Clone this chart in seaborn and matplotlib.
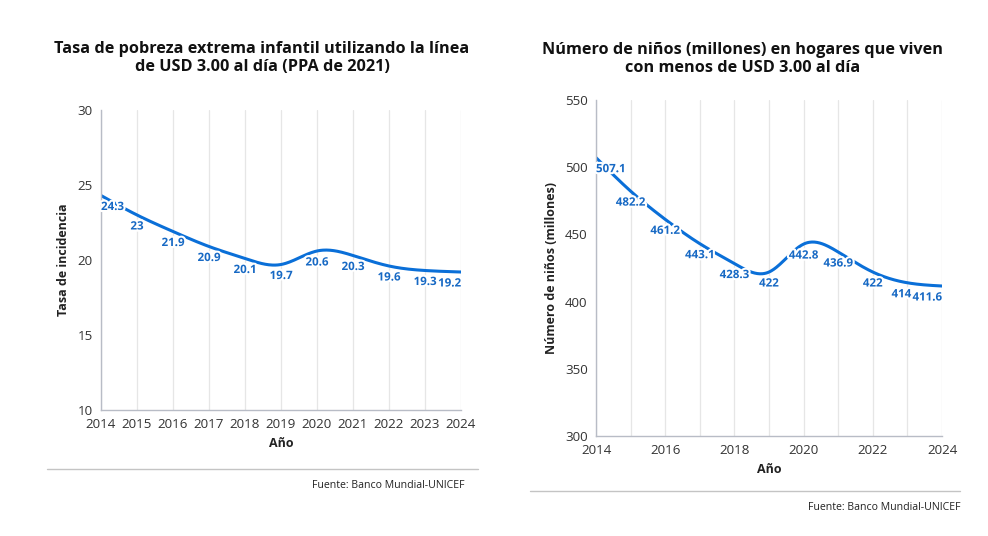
import numpy as np
import pandas as pd
import matplotlib
matplotlib.use("Agg")
import matplotlib.pyplot as plt
import matplotlib.patheffects as pe
from matplotlib.lines import Line2D
import seaborn as sns

# ---- data ----
years = [2014, 2015, 2016, 2017, 2018, 2019, 2020, 2021, 2022, 2023, 2024]
tasa = [24.3, 23, 21.9, 20.9, 20.1, 19.7, 20.6, 20.3, 19.6, 19.3, 19.2]
ninos = [507.1, 482.2, 461.2, 443.1, 428.3, 422, 442.8, 436.9, 422, 414, 411.6]
tasa_labels = ["24.3", "23", "21.9", "20.9", "20.1", "19.7", "20.6", "20.3", "19.6", "19.3", "19.2"]
ninos_labels = ["507.1", "482.2", "461.2", "443.1", "428.3", "422", "442.8", "436.9", "422", "414", "411.6"]

title_left = "Tasa de pobreza extrema infantil utilizando la línea\nde USD 3.00 al día (PPA de 2021)"
title_right = "Número de niños (millones) en hogares que viven\ncon menos de USD 3.00 al día"
ylabel_left = "Tasa de incidencia"
ylabel_right = "Número de niños (millones)"
xlabel = "Año"
source = "Fuente: Banco Mundial-UNICEF"

LINE = "#0a6fd8"
LABEL = "#1769c4"
TXT = "#333333"
GRID = "#e6e6e6"
SPINE = "#b8bcc6"

sns.set_theme(style="white")
plt.rcParams["font.family"] = ["Open Sans", "DejaVu Sans"]


def natural_spline(x, y, xs):
    x = np.asarray(x, float); y = np.asarray(y, float)
    n = len(x)
    h = np.diff(x)
    A = np.zeros((n, n)); b = np.zeros(n)
    A[0, 0] = 1; A[-1, -1] = 1
    for i in range(1, n - 1):
        A[i, i - 1] = h[i - 1]
        A[i, i] = 2 * (h[i - 1] + h[i])
        A[i, i + 1] = h[i]
        b[i] = 3 * ((y[i + 1] - y[i]) / h[i] - (y[i] - y[i - 1]) / h[i - 1])
    c = np.linalg.solve(A, b)
    out = np.empty_like(xs, dtype=float)
    for k, xv in enumerate(xs):
        i = min(max(np.searchsorted(x, xv) - 1, 0), n - 2)
        dx = xv - x[i]
        bi = (y[i + 1] - y[i]) / h[i] - h[i] * (2 * c[i] + c[i + 1]) / 3
        di = (c[i + 1] - c[i]) / (3 * h[i])
        out[k] = y[i] + bi * dx + c[i] * dx ** 2 + di * dx ** 3
    return out


fig = plt.figure(figsize=(9.88, 5.36), dpi=100)
axL = fig.add_axes([101 / 988, 1 - 410 / 536, 360 / 988, 300 / 536])
axR = fig.add_axes([596 / 988, 1 - 436 / 536, 346 / 988, 336 / 536])


def draw(ax, vals, labels, ylim, yticks, xticks_major, ylab, nudge=None):
    nudge = nudge or {}
    xs = np.linspace(years[0], years[-1], 400)
    df = pd.DataFrame({"Año": xs, "v": natural_spline(years, vals, xs)})
    sns.lineplot(data=df, x="Año", y="v", ax=ax, color=LINE, linewidth=2.2)
    ax.set_xlim(years[0], years[-1])
    ax.set_ylim(*ylim)
    ax.set_yticks(yticks)
    ax.set_xticks(xticks_major)
    ax.set_xticks(years, minor=True)
    ax.grid(False)
    for yr in years:
        ax.axvline(yr, color=GRID, lw=0.9, zorder=0)
    for s in ["top", "right"]:
        ax.spines[s].set_visible(False)
    for s in ["left", "bottom"]:
        ax.spines[s].set_color(SPINE)
        ax.spines[s].set_linewidth(1)
    ax.tick_params(axis="both", which="both", length=5, color=SPINE, labelsize=9.6, labelcolor=TXT, pad=1, width=1)
    ax.set_xlabel(xlabel, fontsize=9, fontweight="bold", color="#222", labelpad=4)
    ax.set_ylabel(ylab, fontsize=9, fontweight="bold", color="#222", labelpad=5)
    for i, (yr, v, lab) in enumerate(zip(years, vals, labels)):
        ha = "center"
        if i == 0:
            ha = "left"
        elif i == len(years) - 1:
            ha = "right"
        ax.annotate(lab, (yr, v), xytext=(nudge.get(i, 0), -11), textcoords="offset pixels",
                    ha=ha, va="center", fontsize=8.3, fontweight="bold", color=LABEL,
                    path_effects=[pe.withStroke(linewidth=3, foreground="white")], zorder=5)


draw(axL, tasa, tasa_labels, (10, 30), [10, 15, 20, 25, 30], years, ylabel_left)
draw(axR, ninos, ninos_labels, (300, 550), [300, 350, 400, 450, 500, 550], years[::2], ylabel_right,
     nudge={9: -6})
axR.tick_params(axis="x", which="minor", length=5, labelbottom=False)

fig.text(262 / 988, 1 - 58 / 536, title_left, ha="center", va="center", fontsize=11.7,
         fontweight="bold", color="#111", linespacing=1.22)
fig.text(743 / 988, 1 - 59 / 536, title_right, ha="center", va="center", fontsize=11.7,
         fontweight="bold", color="#111", linespacing=1.22)

fig.add_artist(Line2D([47 / 988, 478 / 988], [1 - 469 / 536] * 2, color="#c4c4c4", lw=1))
fig.add_artist(Line2D([530 / 988, 960 / 988], [1 - 491 / 536] * 2, color="#c4c4c4", lw=1))
fig.text(465 / 988, 1 - 486 / 536, source, ha="right", va="center", fontsize=7.6, color="#222")
fig.text(960 / 988, 1 - 507 / 536, source, ha="right", va="center", fontsize=7.6, color="#222")

fig.savefig("out.png", dpi=100, facecolor="white")
